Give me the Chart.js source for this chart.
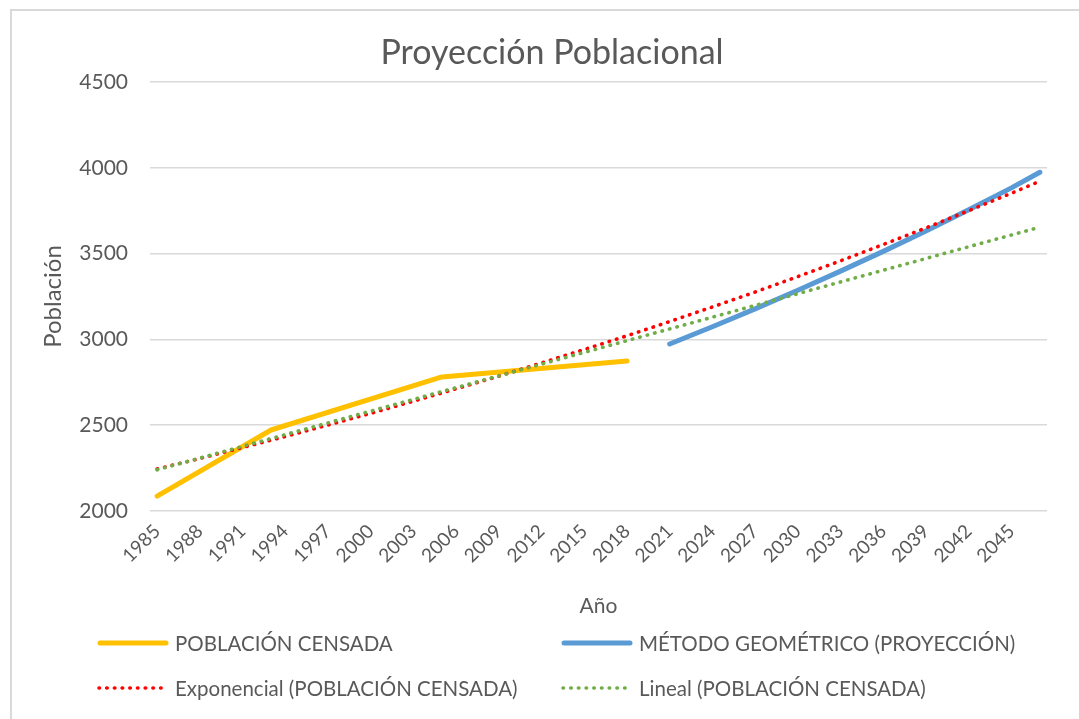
<!DOCTYPE html>
<html>
<head>
<meta charset="utf-8">
<script src="https://cdn.jsdelivr.net/npm/chart.js@4"></script>
<style>
  body { margin: 0; background: #fff; overflow: hidden; }
  #wrap { position: relative; width: 1079px; height: 719px; }
  #frame { position: absolute; left: 10px; top: 9px; width: 1200px; height: 800px; border: 2px solid #d9d9d9; box-sizing: border-box; }
  #chart { position: absolute; left: 0; top: 0; }
</style>
</head>
<body>
<div id="wrap">
  <div id="frame"></div>
  <canvas id="chart" width="1079" height="719"></canvas>
</div>
<script>
// population chart
const FONT = 'Lato, "Open Sans", sans-serif';
const GREY = '#595959';
const TITLE = 'Proyección Poblacional';

// years on the category axis
const years = [];
for (let y = 1985; y <= 2047; y++) years.push(String(y));

// census
const censoYears = ['1985', '1993', '2005', '2018'];
const censoValues = [2087, 2472, 2781, 2874];

// geometric projection
const geoYears = ['2021', '2024', '2027', '2030', '2033', '2036', '2039', '2042', '2045', '2047'];
const geoValues = [2973, 3074, 3178, 3286, 3398, 3513, 3632, 3756, 3883, 3974];

// exponential trendline
const expYears = ['1985', '1988', '1991', '1994', '1997', '2000', '2003', '2006', '2009', '2012', '2015',
    '2018', '2021', '2024', '2027', '2030', '2033', '2036', '2039', '2042', '2045', '2047'];
const expValues = [2245, 2306, 2370, 2434, 2501, 2569, 2640, 2712, 2786, 2863, 2941,
    3021, 3104, 3189, 3276, 3366, 3458, 3553, 3650, 3750, 3852, 3922];

// linear trendline
const linYears = ['1985', '2047'];
const linValues = [2240, 3654];

function pts(xs, ys) {
    return xs.map((x, i) => ({ x: x, y: ys[i] }));
}

const dotted = [0.5, 7.2];

const data = {
    labels: years,
    datasets: [{
        label: 'POBLACIÓN CENSADA',
        data: pts(censoYears, censoValues),
        borderColor: '#ffc000',
        borderWidth: 5,
        borderCapStyle: 'round',
        borderJoinStyle: 'round',
        pointRadius: 0,
        spanGaps: true,
        order: 3
    }, {
        label: 'MÉTODO GEOMÉTRICO (PROYECCIÓN)',
        data: pts(geoYears, geoValues),
        borderColor: '#5b9bd5',
        borderWidth: 5,
        borderCapStyle: 'round',
        borderJoinStyle: 'round',
        pointRadius: 0,
        spanGaps: true,
        order: 4
    }, {
        label: 'Exponencial (POBLACIÓN CENSADA)',
        data: pts(expYears, expValues),
        borderColor: '#ff0000',
        borderWidth: 3.6,
        borderDash: dotted,
        borderCapStyle: 'round',
        pointRadius: 0,
        spanGaps: true,
        order: 2
    }, {
        label: 'Lineal (POBLACIÓN CENSADA)',
        data: pts(linYears, linValues),
        borderColor: '#70ad47',
        borderWidth: 3.6,
        borderDash: dotted,
        borderCapStyle: 'round',
        pointRadius: 0,
        spanGaps: true,
        order: 1
    }]
};

// title and a two column legend, placed like the original
const decor = {
    id: 'decor',
    afterDraw(chart) {
        const ctx = chart.ctx;
        ctx.save();
        ctx.fillStyle = GREY;
        ctx.font = '34px ' + FONT;
        ctx.textAlign = 'center';
        ctx.textBaseline = 'middle';
        ctx.fillText(TITLE, 552, 53);

        const cols = [98, 562];
        const rows = [643, 688];
        chart.data.datasets.forEach((ds, i) => {
            const x = cols[i % 2];
            const y = rows[Math.floor(i / 2)];
            ctx.beginPath();
            ctx.strokeStyle = ds.borderColor;
            ctx.lineWidth = ds.borderWidth;
            ctx.lineCap = 'round';
            ctx.setLineDash(ds.borderDash || []);
            ctx.moveTo(x + (ds.borderDash ? 1 : 2), y);
            ctx.lineTo(x + 68, y);
            ctx.stroke();
            ctx.setLineDash([]);
            ctx.fillStyle = GREY;
            ctx.font = '20.5px ' + FONT;
            ctx.textBaseline = 'middle';
            ctx.textAlign = 'left';
            ctx.fillText(ds.label, x + 77, y + 1);
        });
        ctx.restore();
    }
};

const options = {
    responsive: false,
    animation: false,
    layout: { padding: { left: 36, right: 32, top: 82, bottom: 98 } },
    plugins: {
        legend: { display: false },
        tooltip: { enabled: false },
        title: { display: false }
    },
    scales: {
        x: {
            type: 'category',
            offset: true,
            grid: { display: false, drawTicks: false },
            border: { display: false },
            ticks: {
                autoSkip: false,
                minRotation: 45,
                maxRotation: 45,
                padding: 9,
                color: GREY,
                font: { family: FONT, size: 19 },
                callback(val, i) { return i % 3 === 0 ? this.getLabelForValue(val) : ''; }
            },
            title: {
                display: true,
                text: 'Año',
                color: GREY,
                font: { family: FONT, size: 21 },
                padding: { top: 0, bottom: 2 }
            },
            afterFit(scale) { scale.height = 110; }
        },
        y: {
            min: 2000,
            max: 4500,
            grid: { color: '#d9d9d9', lineWidth: 1.5, drawTicks: false },
            border: { display: false },
            ticks: {
                stepSize: 500,
                padding: 22,
                color: GREY,
                font: { family: FONT, size: 21 },
                callback(val) { return String(val); }
            },
            title: {
                display: true,
                text: 'Población',
                color: GREY,
                font: { family: FONT, size: 24 },
                padding: { top: 3, bottom: 0 }
            },
            afterFit(scale) { scale.width = 114; }
        }
    }
};

new Chart(document.getElementById('chart'), {
    type: 'line',
    data: data,
    options: options,
    plugins: [decor]
});
</script>
</body>
</html>
